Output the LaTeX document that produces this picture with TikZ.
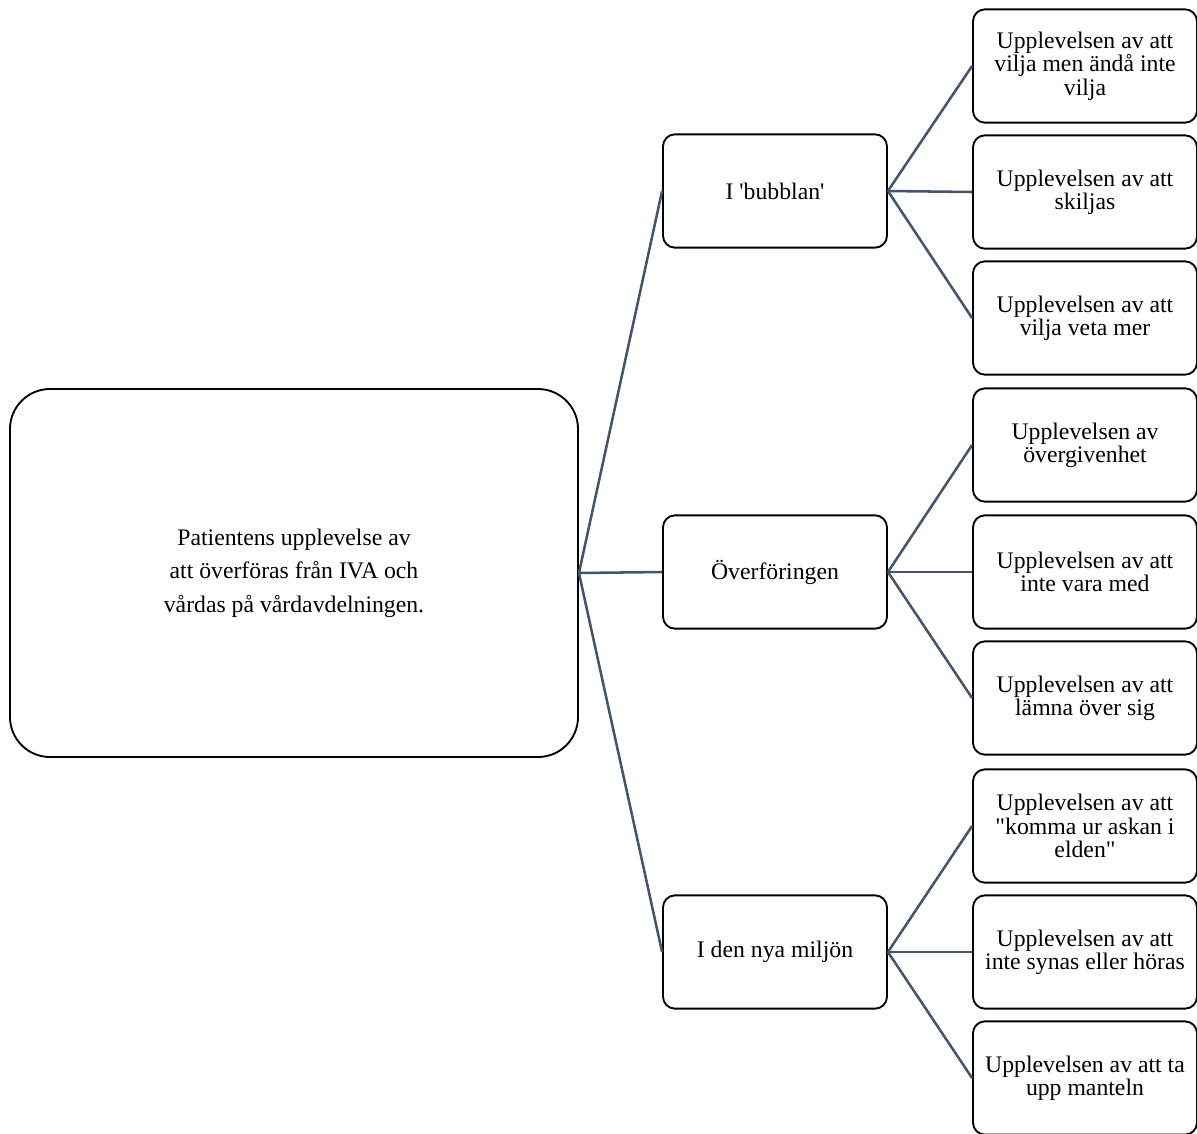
\documentclass[tikz,border=0pt]{standalone}
\usepackage{fontspec}
\setmainfont{Liberation Serif}[Ligatures=TeXOff]
\usepackage{xcolor}
\usepackage{tikz}
\definecolor{linkgray}{HTML}{44546A}

\begin{document}
\begin{tikzpicture}[
  x=0.75pt, y=-0.75pt,
  rootbox/.style={draw, line width=1.4pt, rounded corners=30pt,
                  minimum width=426pt, minimum height=276pt, align=center,
                  font=\fontsize{17.8}{25}\selectfont},
  catbox/.style={draw, line width=1.4pt, rounded corners=9pt,
                 minimum width=168pt, minimum height=85pt, align=center,
                 font=\fontsize{17.8}{17.5}\selectfont},
  link/.style={draw=linkgray, line width=1.9pt},
]
  \useasboundingbox (0,0) rectangle (1197,1133);

  % Root
  \node[rootbox] (root) at (294, 573) {
    Patientens upplevelse av\\
    att överföras från IVA och\\
    vårdas på vårdavdelningen.
  };

  % Themes
  \node[catbox] (bubblan) at (775, 191) {I 'bubblan'};
  \node[catbox] (overf) at (775, 572) {Överföringen};
  \node[catbox] (miljon) at (775, 952) {I den nya miljön};

  % Subthemes
  \node[catbox] (vilja) at (1085, 66) {Upplevelsen av att\\ vilja men ändå inte\\ vilja};
  \node[catbox] (skiljas) at (1085, 192) {Upplevelsen av att\\ skiljas};
  \node[catbox] (veta) at (1085, 318) {Upplevelsen av att\\ vilja veta mer};
  \node[catbox] (overgiv) at (1085, 445) {Upplevelsen av\\ övergivenhet};
  \node[catbox] (intemed) at (1085, 572) {Upplevelsen av att\\ inte vara med};
  \node[catbox] (lamna) at (1085, 698) {Upplevelsen av att\\ lämna över sig};
  \node[catbox] (askan) at (1085, 826) {Upplevelsen av att\\ "komma ur askan i\\ elden"};
  \node[catbox] (synas) at (1085, 952) {Upplevelsen av att\\ inte synas eller höras};
  \node[catbox] (manteln) at (1085, 1078) {Upplevelsen av att ta\\ upp manteln};

  % Links
  \draw[link] (root.east) -- (bubblan.west);
  \draw[link] (root.east) -- (overf.west);
  \draw[link] (root.east) -- (miljon.west);

  \draw[link] (bubblan.east) -- (vilja.west);
  \draw[link] (bubblan.east) -- (skiljas.west);
  \draw[link] (bubblan.east) -- (veta.west);

  \draw[link] (overf.east) -- (overgiv.west);
  \draw[link] (overf.east) -- (intemed.west);
  \draw[link] (overf.east) -- (lamna.west);

  \draw[link] (miljon.east) -- (askan.west);
  \draw[link] (miljon.east) -- (synas.west);
  \draw[link] (miljon.east) -- (manteln.west);

\end{tikzpicture}
\end{document}
